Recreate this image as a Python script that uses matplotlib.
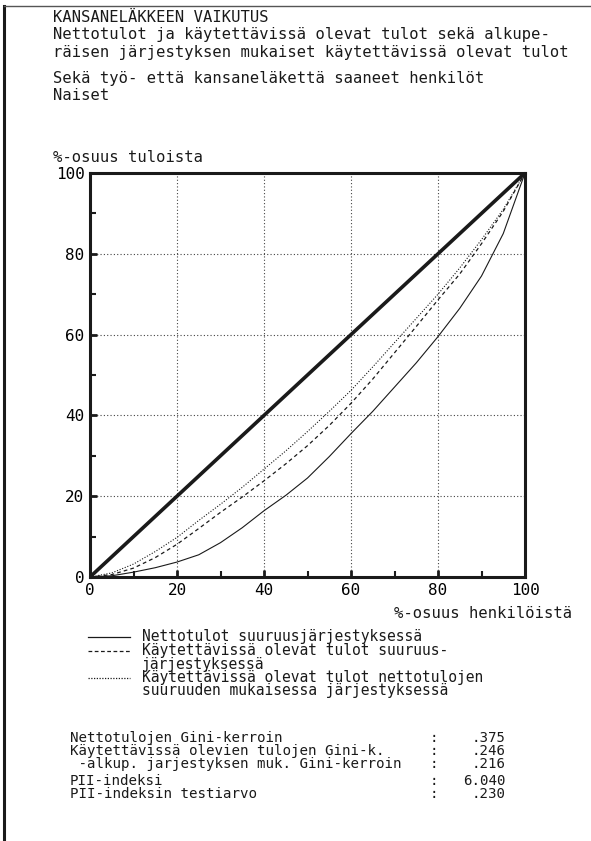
import matplotlib
matplotlib.use("Agg")
import matplotlib.pyplot as plt
from matplotlib.lines import Line2D
import numpy as np

# Lorenz-käyrät luettu kuvasta (x = %-osuus henkilöistä)
osuus = [0, 5, 10, 15, 20, 25, 30, 35, 40, 45, 50, 55, 60, 65, 70, 75, 80, 85, 90, 95, 100]
nettotulot = [0, 0.3, 1.2, 2.3, 3.7, 5.5, 8.5, 12.2, 16.4, 20.2, 24.5, 29.8, 35.5, 41.0, 47.0, 53.0, 59.5, 66.5, 74.5, 85.0, 100]
kaytettavissa = [0, 0.6, 2.2, 4.8, 8.1, 12.0, 16.0, 19.8, 23.8, 28.0, 32.5, 37.5, 43.0, 49.0, 55.5, 62.0, 68.6, 75.0, 82.5, 90.5, 100]
alkup_jarj = [0, 1.0, 3.2, 6.3, 9.8, 14.0, 18.0, 22.2, 26.7, 31.2, 36.0, 41.0, 46.2, 52.0, 58.0, 64.0, 70.0, 76.5, 83.5, 91.0, 100]

tasajako = [0, 100]
tikit = [0, 20, 40, 60, 80, 100]

otsikko = ["KANSANELÄKKEEN VAIKUTUS",
           "Nettotulot ja käytettävissä olevat tulot sekä alkupe-",
           "räisen järjestyksen mukaiset käytettävissä olevat tulot"]
ryhma = ["Sekä työ- että kansaneläkettä saaneet henkilöt", "Naiset"]

selite_rivit = ["Nettotulot suuruusjärjestyksessä",
                "Käytettävissä olevat tulot suuruus-",
                "järjestyksessä",
                "Käytettävissä olevat tulot nettotulojen",
                "suuruuden mukaisessa järjestyksessä"]

tunnusluvut = ["Nettotulojen Gini-kerroin",
               "Käytettävissä olevien tulojen Gini-k.",
               " -alkup. jarjestyksen muk. Gini-kerroin"]
arvot = [".375", ".246", ".216"]
pii_nimet = ["PII-indeksi", "PII-indeksin testiarvo"]
pii_arvot = ["6.040", ".230"]

W, H = 591, 841
FONT = "DejaVu Sans Mono"
FS = 11.2
ink = "#1a1a1a"


def fx(px):
    return px / W


def fy(py):
    return 1 - py / H


fig = plt.figure(figsize=(W / 100, H / 100), dpi=100)
fig.patch.set_facecolor("white")

# kehys
fig.add_artist(Line2D([fx(4), fx(4)], [fy(6), fy(841)], color=ink, lw=2.2))
fig.add_artist(Line2D([fx(4), fx(591)], [fy(6), fy(6)], color="#555555", lw=1.0))

# otsikot
for i, t in enumerate(otsikko):
    fig.text(fx(53), fy(18 + i * 17), t, family=FONT, fontsize=FS, color=ink, va="center")
for i, t in enumerate(ryhma):
    fig.text(fx(53), fy(78 + i * 17), t, family=FONT, fontsize=FS, color=ink, va="center")
fig.text(fx(53), fy(158), "%-osuus tuloista", family=FONT, fontsize=FS, color=ink, va="center")

ax = fig.add_axes([fx(90), fy(577), fx(525) - fx(90), fy(173) - fy(577)])
ax.plot(tasajako, tasajako, color=ink, lw=2.6, solid_capstyle="round")
ax.plot(osuus, nettotulot, color=ink, lw=0.8)
ax.plot(osuus, kaytettavissa, color=ink, lw=0.9, ls=(0, (3, 2.5)))
ax.plot(osuus, alkup_jarj, color=ink, lw=0.8, ls=(0, (1, 1.5)))

ax.set_xlim(0, 100)
ax.set_ylim(0, 100)
ax.set_xticks(tikit)
ax.set_yticks(tikit)
ax.set_xticks(range(10, 100, 20), minor=True)
ax.set_yticks(range(10, 100, 20), minor=True)
ax.grid(True, which="major", ls=(0, (1, 2)), color="#444444", lw=0.8)
ax.tick_params(which="major", direction="in", length=5, width=2, color=ink,
               labelsize=11.5, pad=4)
ax.tick_params(which="minor", direction="in", length=4, width=1.5, color=ink)
for lab in ax.get_xticklabels() + ax.get_yticklabels():
    lab.set_family(FONT)
for s in ax.spines.values():
    s.set_linewidth(2.2)
    s.set_color(ink)

fig.text(fx(572), fy(614), "%-osuus henkilöistä", family=FONT, fontsize=FS,
         color=ink, va="center", ha="right")

# selitteet
tyylit = ["-", (0, (3, 2)), (0, (1, 1.2))]
naytteet = [637, 651, 678]
for tyyli, rivi in zip(tyylit, naytteet):
    fig.add_artist(Line2D([fx(88), fx(130)], [fy(rivi), fy(rivi)], color=ink,
                          lw=0.9, ls=tyyli))
LF = 10.5
for i, t in enumerate(selite_rivit):
    fig.text(fx(142), fy(637 + i * 13.5), t, family=FONT, fontsize=LF, color=ink,
             va="center")

# tunnusluvut
SF = 10.2


def rivi(y, nimi, luku):
    fig.text(fx(70), fy(y), nimi, family=FONT, fontsize=SF, color=ink, va="center")
    fig.text(fx(430), fy(y), ":", family=FONT, fontsize=SF, color=ink, va="center")
    fig.text(fx(506), fy(y), luku, family=FONT, fontsize=SF, color=ink, va="center", ha="right")


for i, (n, a) in enumerate(zip(tunnusluvut, arvot)):
    rivi(738 + i * 13, n, a)
for i, (n, a) in enumerate(zip(pii_nimet, pii_arvot)):
    rivi(781 + i * 13, n, a)

fig.savefig("out.png", dpi=100, facecolor="white")
